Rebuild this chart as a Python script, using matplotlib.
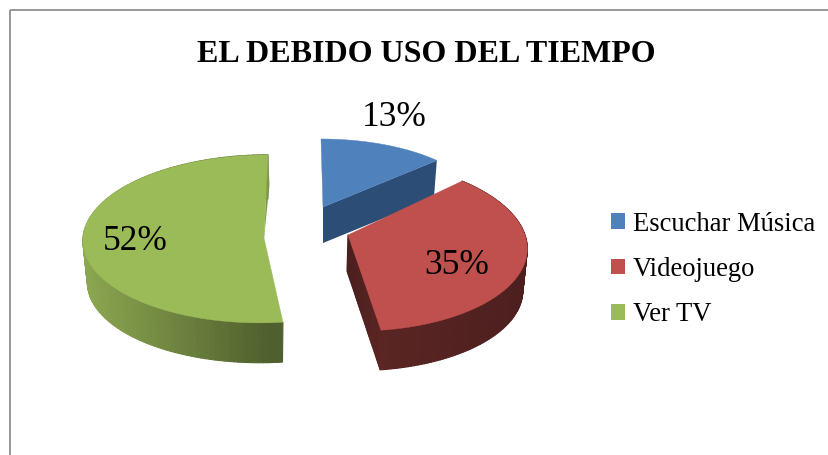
import numpy as np
import matplotlib
matplotlib.use('Agg')
import matplotlib.pyplot as plt
from matplotlib.collections import PolyCollection
from matplotlib.patches import Patch, Rectangle

# chart data
title = 'EL DEBIDO USO DEL TIEMPO'
categories = ['Escuchar Música', 'Videojuego', 'Ver TV']
values = [13, 35, 52]

# colours
topColors = ['#4F81BD', '#C0504D', '#9BBB59']
sideLeft = ['#2C4D75', '#5A2523', '#8BA650']
sideRight = ['#2C4D75', '#4C1F1E', '#4F5F2D']

# wedge geometry in pixels, this imitates the 3d view
centers = [(323, 207), (348, 235), (264, 238)]
radiusX = [158, 177, 181]
radiusY = [68, 85, 84]
persp = [0.0, 0.115, 0.01]
shear = [-2, -8, 4]
depth = [36, 42, 42]
labelPos = [(394, 114), (457, 262), (135, 238)]

plt.rcParams['font.family'] = ['Liberation Serif', 'DejaVu Serif']

fig = plt.figure(figsize=(8.29, 4.55), dpi=100)
ax = fig.add_axes([0, 0, 1, 1])
ax.set_xlim(0, 829)
ax.set_ylim(455, 0)
ax.axis('off')


def project(i, theta, bottom=False):
    # theta in degrees, clockwise from the top
    u = np.sin(np.radians(theta))
    v = np.cos(np.radians(theta))
    p = 1 / (1 + persp[i] * v)
    scale = 0.975 if bottom else 1.0
    x = centers[i][0] + scale * (radiusX[i] * u * p + shear[i] * v)
    y = centers[i][1] - scale * radiusY[i] * v * p
    if bottom:
        y = y + depth[i]
    return x, y


def gradient(c0, c1, n):
    c0 = np.array(matplotlib.colors.to_rgb(c0))
    c1 = np.array(matplotlib.colors.to_rgb(c1))
    return [c0 + (c1 - c0) * t for t in np.linspace(0, 1, n)]


# wedge angles from the values
edges = np.concatenate([[0], np.cumsum(values)]) * 3.6

# red goes after blue, it covers the blue side
for i in [2, 0, 1]:
    theta = np.linspace(edges[i], edges[i + 1], 120)
    xt, yt = project(i, theta)
    xb, yb = project(i, theta, bottom=True)

    # outer wall, shaded left to right
    quads = []
    for k in range(len(theta) - 1):
        quads.append([(xt[k], yt[k]), (xt[k + 1], yt[k + 1]), (xb[k + 1], yb[k + 1]), (xb[k], yb[k])])
    mid = (xt[:-1] + xt[1:]) / 2
    shade = gradient(sideLeft[i], sideRight[i], 50)
    lo, hi = (mid.min(), xt[-1]) if i == 2 else (xt[-1], mid.max())
    t = np.clip((mid - lo) / (hi - lo), 0, 1)
    colors = [shade[int(a * 49)] for a in t]
    if i != 0:
        ax.add_collection(PolyCollection(quads, facecolors=colors, edgecolors=colors, linewidths=0.8))

    # straight cut faces
    if i == 0:
        xe, ye = xt[-1], yt[-1]
        xf, yf = xb[-1], yb[-1]
        ax.fill([centers[i][0], xe, xf, centers[i][0]],
                [centers[i][1], ye, yf, centers[i][1] + depth[i]], color=sideLeft[i], lw=0)
    if i == 1:
        xe, ye = xt[-1], yt[-1]
        xf, yf = xb[-1], yb[-1]
        cx, cy = centers[i]
        steps = 30
        cutColors = gradient('#4A1F1E', sideLeft[i], steps)
        px = np.linspace(cx, xe, steps + 1)
        py = np.linspace(cy, ye, steps + 1)
        qx = np.linspace(cx - 1, xf, steps + 1)
        qy = np.linspace(cy + depth[i] - 6, yf, steps + 1)
        cutQuads = [[(px[k], py[k]), (px[k + 1], py[k + 1]), (qx[k + 1], qy[k + 1]), (qx[k], qy[k])]
                    for k in range(steps)]
        ax.add_collection(PolyCollection(cutQuads, facecolors=cutColors, edgecolors=cutColors, linewidths=0.8))
    if i == 2:
        # thin sliver of the back cut
        ax.fill([centers[i][0], xt[-1], xt[-1] + 1.5],
                [centers[i][1], yt[-1], yt[-1] + 30], color='#7E9A48', lw=0)

    # top face
    ax.fill(np.concatenate([[centers[i][0]], xt]), np.concatenate([[centers[i][1]], yt]),
            color=topColors[i], lw=0.3)

    ax.text(labelPos[i][0], labelPos[i][1] + 4, f'{values[i]}%', fontsize=25.5, color='black',
            ha='center', va='center')

ax.text(426, 54, title, fontsize=23, fontweight='bold', color='black', ha='center', va='center')

handles = [Patch(facecolor=c, edgecolor='none', label=n) for c, n in zip(topColors, categories)]
ax.legend(handles=handles, loc='center left', bbox_to_anchor=(587 / 829, 1 - 269.5 / 455), frameon=False,
          fontsize=19.2, handlelength=0.53, handleheight=0.53, handletextpad=0.3, labelspacing=0.76,
          labelcolor='black')

# chart frame, right and bottom run off the picture
ax.add_patch(Rectangle((10.5, 9.5), 900, 600, fill=False, edgecolor='#868686', linewidth=1.2))

plt.savefig('out.png', dpi=100)
